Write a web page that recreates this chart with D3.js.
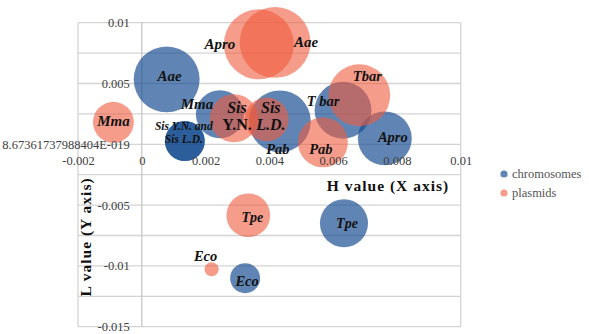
<!DOCTYPE html>
<html lang="en">
<head>
<meta charset="utf-8">
<title>H value vs L value bubbles</title>
<script src="https://d3js.org/d3.v7.min.js"></script>
<style>
	body { margin: 0; background: #fff; }
	.tick text { font-family: "Liberation Serif", "DejaVu Serif", serif; font-size: 12.5px; fill: #404040; }
	.lbl { font-family: "Liberation Serif", serif; font-weight: bold; font-style: italic; fill: #111; }
</style>
</head>
<body>
<svg id="chart"></svg>
<script>
	// ---------------- data ----------------
	// chromosomes (blue)
	var chromNames = ["Aae", "Mma", "Sis Y.N.", "Sis L.D.", "Pab", "T bar", "Apro", "Tpe", "Eco"]
	var chromH     = [0.00078, 0.00245, 0.00135, 0.00135, 0.00433, 0.00631, 0.00762, 0.00634, 0.00324]
	var chromL     = [0.00534, 0.00247, 0.00027, 0.00027, 0.00189, 0.0028, 0.00049, -0.00649, -0.01101]
	var chromSize  = [10.9, 5.8, 4.0, 4.0, 9.6, 8.1, 7.3, 5.8, 2.25]

	// plasmids (salmon)
	var plasNames = ["Mma", "Apro", "Aae", "Sis Y.N.", "Sis L.D.", "Pab", "Tbar", "Tpe", "Eco"]
	var plasH     = [-0.00089, 0.00367, 0.00418, 0.00289, 0.00392, 0.00568, 0.00682, 0.00334, 0.00219]
	var plasL     = [0.00181, 0.00822, 0.00838, 0.00214, 0.00205, 0.00016, 0.00403, -0.00584, -0.01028]
	var plasSize  = [4.2, 12.3, 12.6, 5.8, 4.8, 6.25, 9.6, 4.8, 0.5]

	// ticks
	var xTicks = [-0.002, 0, 0.002, 0.004, 0.006, 0.008, 0.01]
	var xTickLabels = ["-0.002", "0", "0.002", "0.004", "0.006", "0.008", "0.01"]
	var yTicks = [0.01, 0.005, 0, -0.005, -0.01, -0.015]
	var yTickLabels = ["0.01", "0.005", "8.67361737988404E-019", "-0.005", "-0.01", "-0.015"]
	var yGrid = [0.01, 0.0075, 0.005, 0.0025, 0, -0.0025, -0.005, -0.0075, -0.01, -0.0125, -0.015]

	var seriesNames = ["chromosomes", "plasmids"]

	// ---------------- layout ----------------
	var W = 589, H = 334
	var blue = "rgb(20,75,145)", salmon = "rgb(240,90,60)"
	var gridC = "#d4d4d4"

	var xScale = d3.scaleLinear().domain([-0.002, 0.01]).range([78, 460.7])
	var yScale = d3.scaleLinear().domain([-0.015, 0.01]).range([326.7, 22.7])
	var rScale = d3.scaleSqrt().domain([0, 12.3]).range([0, 35])

	var svg = d3.select("#chart").attr("width", W).attr("height", H)

	// gridlines
	svg.append("g").selectAll("line").data(yGrid).join("line")
		.attr("x1", xScale(-0.002)).attr("x2", xScale(0.01))
		.attr("y1", d => yScale(d)).attr("y2", d => yScale(d))
		.attr("stroke", gridC).attr("stroke-width", 1.3)
	svg.append("g").selectAll("line").data([-0.002, 0.01]).join("line")
		.attr("x1", d => xScale(d)).attr("x2", d => xScale(d))
		.attr("y1", yScale(0.01)).attr("y2", yScale(-0.015))
		.attr("stroke", gridC).attr("stroke-width", 1.3)
	// vertical axis line at H = 0
	svg.append("line")
		.attr("x1", xScale(0)).attr("x2", xScale(0))
		.attr("y1", yScale(0.01)).attr("y2", yScale(-0.015))
		.attr("stroke", "#c8c8c8").attr("stroke-width", 1.3)

	// bubbles
	var chrom = chromNames.map((n, i) => ({name: n, h: chromH[i], l: chromL[i], s: chromSize[i]}))
	var plas = plasNames.map((n, i) => ({name: n, h: plasH[i], l: plasL[i], s: plasSize[i]}))

	svg.append("g").selectAll("circle").data(chrom).join("circle")
		.attr("cx", d => xScale(d.h)).attr("cy", d => yScale(d.l)).attr("r", d => rScale(d.s))
		.attr("fill", blue).attr("fill-opacity", 0.68)
	svg.append("g").selectAll("circle").data(plas).join("circle")
		.attr("cx", d => xScale(d.h)).attr("cy", d => yScale(d.l)).attr("r", d => rScale(d.s))
		.attr("fill", salmon).attr("fill-opacity", 0.6)

	// axes
	var yAxis = d3.axisLeft(yScale).tickValues(yTicks).tickSize(0).tickPadding(12)
		.tickFormat((d, i) => yTickLabels[i])
	svg.append("g").attr("transform", "translate(" + xScale(0) + ",0)").call(yAxis)
		.call(g => g.select(".domain").remove())

	var xAxis = d3.axisBottom(xScale).tickValues(xTicks).tickSize(0).tickPadding(12)
		.tickFormat((d, i) => xTickLabels[i])
	svg.append("g").attr("transform", "translate(0," + yScale(0) + ")").call(xAxis)
		.call(g => g.select(".domain").remove())

	// bubble labels: text lines + pixel offset from bubble centre
	var chromLbl = {
		"Aae": [["Aae"], 3, 2, 15],
		"Mma": [["Mma"], -23, -5, 15],
		"Sis Y.N.": [["Sis Y.N. and", "Sis L.D."], -1, -11, 11.5],
		"Pab": [["Pab"], -2, 33, 14.5],
		"T bar": [["T bar"], -20, -4, 14.5],
		"Apro": [["Apro"], 8, 4, 14.5],
		"Tpe": [["Tpe"], 3, 5, 14],
		"Eco": [["Eco"], 2, 8, 14.5]
	}
	var plasLbl = {
		"Mma": [["Mma"], 0, 4, 15],
		"Apro": [["Apro"], -39, 5, 15],
		"Aae": [["Aae"], 31, 5, 15],
		"Sis Y.N.": [["Sis", "Y.N."], 3, -5, 16],
		"Sis L.D.": [["Sis", "L.D."], 4, -6, 16],
		"Pab": [["Pab"], -2, 12, 14.5],
		"Tbar": [["Tbar"], 8, -14, 14.5],
		"Tpe": [["Tpe"], 4, 7, 14],
		"Eco": [["Eco"], -6, -8, 14.5]
	}

	function drawLabels(data, table) {
		data.forEach(d => {
			var t = table[d.name]
			if (!t) return
			var cx = xScale(d.h) + t[1], cy = yScale(d.l) + t[2]
			var txt = svg.append("text").attr("class", "lbl")
				.attr("text-anchor", "middle").style("font-size", t[3] + "px")
			t[0].forEach((line, k) => {
				txt.append("tspan").attr("x", cx).attr("y", cy + k * (t[3] + 1))
					.style("font-style", line == "Y.N." ? "normal" : null)
					.text(line)
			})
		})
	}
	drawLabels(chrom, chromLbl)
	drawLabels(plas, plasLbl)

	// axis titles
	svg.append("text")
		.attr("x", 388).attr("y", 191)
		.attr("text-anchor", "middle")
		.style("font-family", "Liberation Serif, serif").style("font-weight", "bold")
		.style("font-size", "15.5px").style("letter-spacing", "1px").style("fill", "#111")
		.text("H value (X axis)")
	svg.append("text")
		.attr("transform", "translate(91,237) rotate(-90)")
		.attr("text-anchor", "middle")
		.style("font-family", "Liberation Serif, serif").style("font-weight", "bold")
		.style("font-size", "15.5px").style("letter-spacing", "1px").style("fill", "#111")
		.text("L value (Y axis)")

	// legend
	var leg = svg.append("g").selectAll("g").data(seriesNames).join("g")
		.attr("transform", (d, i) => "translate(504," + (174 + i * 19) + ")")
	leg.append("circle").attr("r", 3.6)
		.attr("fill", (d, i) => i == 0 ? blue : salmon)
		.attr("fill-opacity", (d, i) => i == 0 ? 0.68 : 0.6)
	leg.append("text").attr("x", 8).attr("y", 4)
		.style("font-family", "Liberation Serif, serif").style("font-size", "12.5px")
		.style("fill", "#555").text(d => d)
</script>
</body>
</html>
